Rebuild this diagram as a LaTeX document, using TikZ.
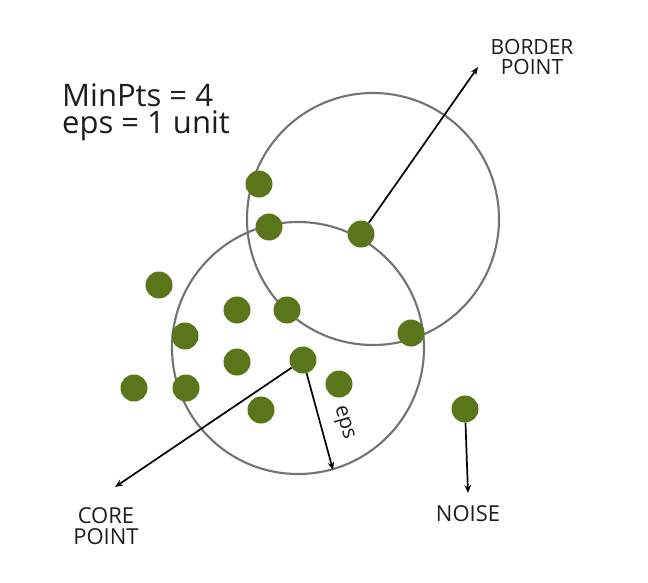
\documentclass[tikz,border=0pt]{standalone}
\usepackage{fontspec}
\setmainfont{Open Sans}
\usetikzlibrary{arrows.meta}
\definecolor{dotgreen}{RGB}{91,117,27}
\definecolor{ringgray}{RGB}{115,115,115}
\definecolor{txt}{RGB}{30,30,30}
\begin{document}
\begin{tikzpicture}[x=1pt,y=-1pt,
  pt/.style={circle,fill=dotgreen,minimum size=27pt,inner sep=0pt},
  ring/.style={draw=ringgray,line width=2.1pt},
  arr/.style={draw=black,line width=1.7pt,-{Stealth[length=8pt,width=6.5pt]}},
  lbl/.style={text=txt,inner sep=0pt,align=center,font=\fontsize{21}{20}\selectfont},
  big/.style={text=txt,inner sep=0pt,anchor=north west,align=left,font=\fontsize{31}{27}\selectfont}]
\useasboundingbox (0,0) rectangle (648,582);
\fill[white] (0,0) rectangle (648,582);
% eps-neighbourhoods
\draw[ring] (373,219) circle[radius=126pt];
\draw[ring] (298,348) circle[radius=126pt];
% points
\node[pt] (p1) at (259,184) {};
\node[pt] (p2) at (269,227) {};
\node[pt] (border) at (361,234) {};
\node[pt] (p4) at (159,285) {};
\node[pt] (p5) at (237,310) {};
\node[pt] (p6) at (287,310) {};
\node[pt] (p7) at (185,336) {};
\node[pt] (p8) at (411,333) {};
\node[pt] (p9) at (237,362) {};
\node[pt] (core) at (303,360) {};
\node[pt] (p11) at (134,388) {};
\node[pt] (p12) at (186,388) {};
\node[pt] (p13) at (339,384) {};
\node[pt] (p14) at (261,410) {};
\node[pt] (noise) at (465,409) {};
% texts
\node[big] (params) at (62,83.5) {MinPts = 4\\eps = 1 unit};
\node[lbl] (borderlbl) at (532,56.5) {BORDER\\POINT};
\node[lbl,font=\fontsize{22}{21}\selectfont] (corelbl) at (106,526) {CORE\\POINT};
\node[lbl,font=\fontsize{22}{21}\selectfont] (noiselbl) at (468,514) {NOISE};
\node[lbl,rotate=-74] (epslbl) at (343,423) {eps};
% arrow end points
\coordinate (bt) at (478,67);
\coordinate (ct) at (115,487);
\coordinate (et) at (333,470);
\coordinate (nt) at (468,493);
% arrows
\draw[arr] (border) -- (bt);
\draw[arr] (core) -- (ct);
\draw[arr] (core) -- (et);
\draw[arr] (noise) -- (nt);
\end{tikzpicture}
\end{document}
